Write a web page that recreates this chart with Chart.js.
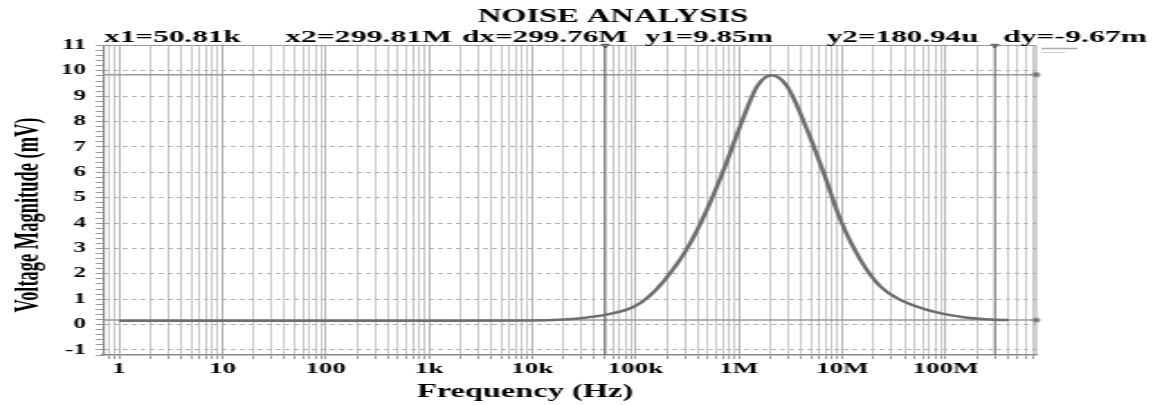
<!DOCTYPE html>
<html lang="en">
<head>
  <meta charset="UTF-8">
  <title>Noise analysis</title>
  <script src="https://cdn.jsdelivr.net/npm/chart.js@4.4.0/dist/chart.umd.min.js"></script>
  <style>
    html, body { margin: 0; padding: 0; background: #fff; overflow: hidden; }
    /* the reference is a screenshot stretched sideways, so draw narrow and stretch */
    #wrap { width: 640px; height: 405px; transform: scaleX(1.8016); transform-origin: 0 0; }
  </style>
</head>
<body>
<div id="wrap"><canvas id="chart"></canvas></div>

<script>
// curve (Hz, mV)
const freqHz  = [1, 10, 100, 1e3, 1e4, 2e4, 29.4e3, 53.2e3, 96.3e3, 134e3, 188e3, 316e3, 493e3, 714e3,
                 1.04e6, 1.5e6, 2.07e6, 2.93e6, 4.57e6, 6.62e6, 9.6e6, 15e6, 23.4e6, 36.6e6,
                 66.2e6, 150e6, 300e6, 408e6];
const noiseMv = [0.15, 0.15, 0.15, 0.15, 0.16, 0.2, 0.25, 0.4, 0.7, 1.1, 1.72, 3.0, 4.55, 6.11,
                 7.88, 9.39, 9.83, 9.39, 7.68, 5.97, 4.13, 2.55, 1.5, 0.97,
                 0.58, 0.29, 0.19, 0.18];

// cursors
const cursorX = [50.81e3, 299.81e6];
const cursorY = [9.85, 0.18094];
const readouts = ['x1=50.81k', 'x2=299.81M', 'dx=299.76M', 'y1=9.85m', 'y2=180.94u', 'dy=-9.67m'];

// axes
const xTickValues = [1, 10, 100, 1e3, 1e4, 1e5, 1e6, 1e7, 1e8];
const xTickLabels = ['1', '10', '100', '1k', '10k', '100k', '1M', '10M', '100M'];
const yTickLabels = ['-1', '0', '1', '2', '3', '4', '5', '6', '7', '8', '9', '10', '11'];

const X_MIN = 0.72, X_MAX = 7.5e8, Y_MIN = -1.2, Y_MAX = 11;
const SERIF = '"Liberation Serif", "Times New Roman", serif';

function isInt(v) { return Math.abs(v - Math.round(v)) < 1e-6; }

// draw text squeezed/stretched to a given width
function fitText(ctx, text, x, y, width, align) {
  const w = ctx.measureText(text).width;
  ctx.save();
  ctx.translate(x, y);
  ctx.scale(width / w, 1);
  ctx.textAlign = align;
  ctx.fillText(text, 0, 0);
  ctx.restore();
}

const decor = {
  id: 'decor',
  afterDraw(chart) {
    const ctx = chart.ctx, a = chart.chartArea;
    ctx.save();
    ctx.strokeStyle = '#8a8a8a';
    ctx.lineWidth = 0.8;
    ctx.beginPath();
    ctx.moveTo(a.left, a.top); ctx.lineTo(a.right, a.top); ctx.lineTo(a.right, a.bottom);
    ctx.stroke();

    // little legend swatch top right
    ctx.strokeStyle = '#aaa';
    ctx.lineWidth = 1.5;
    ctx.beginPath(); ctx.moveTo(a.right + 3, a.top + 3); ctx.lineTo(a.right + 23, a.top + 3); ctx.stroke();
    ctx.strokeStyle = '#ccc';
    ctx.lineWidth = 1;
    ctx.beginPath(); ctx.moveTo(a.right + 3, a.top + 7); ctx.lineTo(a.right + 16, a.top + 7); ctx.stroke();

    ctx.fillStyle = '#000';
    ctx.textBaseline = 'alphabetic';
    ctx.font = 'bold 18px ' + SERIF;
    fitText(ctx, 'NOISE ANALYSIS', 340.3, 22, 150, 'center');

    ctx.font = 'bold 17px ' + SERIF;
    const lefts  = [57.7, 158.2, 256.4, 358, 459, 556.7];
    const widths = [76, 92.7, 92, 71, 84, 80];
    readouts.forEach((t, i) => fitText(ctx, t, lefts[i], 42, widths[i], 'left'));

    ctx.font = 'bold 18px ' + SERIF;
    fitText(ctx, 'Frequency (Hz)', 291.4, 397, 120, 'center');

    ctx.save();
    ctx.translate(16, 215);
    ctx.rotate(-Math.PI / 2);
    ctx.textBaseline = 'middle';
    ctx.font = 'bold 18px ' + SERIF;
    fitText(ctx, 'Voltage Magnitude (mV)', 0, 0, 195, 'center');
    ctx.restore();
    ctx.restore();
  }
};

const xGrid = [];
for (let n = -1; n <= 8; n++) {
  for (let m = 1; m <= 9; m++) {
    const v = m * Math.pow(10, n);
    if (v >= X_MIN && v <= X_MAX) xGrid.push(n < 0 ? m / 10 : v);
  }
}
const yGrid = [];
for (let i = -6; i <= 55; i++) yGrid.push(i / 5);

function cursorLine(points, color, width, style, radius) {
  return {
    data: points,
    borderColor: color,
    backgroundColor: '#444',
    borderWidth: width,
    pointRadius: [0, radius],
    pointStyle: style,
    rotation: 180,
    clip: false,
    tension: 0
  };
}

new Chart(document.getElementById('chart'), {
  type: 'line',
  data: {
    datasets: [
      {
        data: freqHz.map((f, i) => ({ x: f, y: noiseMv[i] })),
        borderColor: '#6e6e6e',
        borderWidth: 2.5,
        pointRadius: 0,
        cubicInterpolationMode: 'monotone',
        fill: false
      },
      cursorLine([{ x: cursorX[0], y: Y_MIN }, { x: cursorX[0], y: Y_MAX }], '#505050', 0.9, 'triangle', 2.5),
      cursorLine([{ x: cursorX[1], y: Y_MIN }, { x: cursorX[1], y: Y_MAX }], '#606060', 0.8, 'triangle', 2.5),
      cursorLine([{ x: X_MIN, y: cursorY[0] }, { x: X_MAX, y: cursorY[0] }], '#9a9a9a', 1.5, 'circle', 1.8),
      cursorLine([{ x: X_MIN, y: cursorY[1] }, { x: X_MAX, y: cursorY[1] }], '#9a9a9a', 1.5, 'circle', 1.8)
    ]
  },
  options: {
    responsive: true,
    maintainAspectRatio: false,
    animation: false,
    layout: { padding: { top: 45.5, right: 65, left: 0, bottom: 0 } },
    plugins: { legend: { display: false }, tooltip: { enabled: false } },
    scales: {
      x: {
        type: 'logarithmic',
        min: X_MIN,
        max: X_MAX,
        afterBuildTicks: s => { s.ticks = xGrid.map(v => ({ value: v })); },
        afterFit: s => { s.height = 50; },
        ticks: {
          autoSkip: false,
          maxRotation: 0,
          padding: 1,
          color: '#000',
          font: { family: SERIF, size: 15, weight: 'bold' },
          callback: v => {
            const i = xTickValues.findIndex(t => Math.abs(t - v) / t < 1e-6);
            return i < 0 ? '' : xTickLabels[i];
          }
        },
        grid: {
          color: ctx => {
            const v = ctx.tick && ctx.tick.value;
            return xTickValues.some(t => Math.abs(t - v) / t < 1e-6) ? '#b4b4b4' : '#c8c8c8';
          },
          lineWidth: 1,
          tickLength: 4,
          tickColor: '#9a9a9a'
        },
        border: { display: true, color: '#8a8a8a', width: 1.6 }
      },
      y: {
        min: Y_MIN,
        max: Y_MAX,
        afterBuildTicks: s => { s.ticks = yGrid.map(v => ({ value: v })); },
        afterFit: s => { s.width = 57.2; },
        ticks: {
          autoSkip: false,
          padding: 5.5,
          color: '#000',
          font: { family: SERIF, size: 14, weight: 'bold' },
          callback: v => isInt(v) ? yTickLabels[Math.round(v) + 1] : ''
        },
        grid: {
          color: ctx => (ctx.tick && isInt(ctx.tick.value)) ? '#a8a8a8' : 'rgba(0,0,0,0)',
          lineWidth: 1,
          tickLength: 4,
          tickColor: '#9a9a9a'
        },
        border: { display: true, color: '#8a8a8a', width: 1.2, dash: [2.5, 2.5] }
      }
    }
  },
  plugins: [decor]
});
</script>
</body>
</html>
